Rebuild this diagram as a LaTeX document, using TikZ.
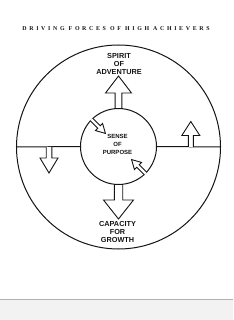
\documentclass[tikz,border=0pt]{standalone}
\usepackage{fontspec}
\usepackage{tikz}
\usepackage{xcolor}
\setmainfont{Liberation Serif}
\newfontfamily\labelfont{Liberation Sans}
\newfontfamily\titlefont[LetterSpace=45]{Liberation Serif}
\definecolor{inkblack}{RGB}{20,20,20}
\definecolor{pageedge}{RGB}{242,242,242}

% outlined block arrow: start point, angle, length, shaft half width, head half width, head length
\newcommand{\blockarrow}[6]{%
	\begin{scope}[shift={(#1)}, rotate=#2]
		\filldraw[arrowbody] (0pt,-#4pt) -- ({#3pt-#6pt},-#4pt) -- ({#3pt-#6pt},-#5pt)
			-- (#3pt,0pt) -- ({#3pt-#6pt},#5pt) -- ({#3pt-#6pt},#4pt) -- (0pt,#4pt);
	\end{scope}}

\begin{document}
\begin{tikzpicture}[
		x=1pt, y=-1pt,
		ring/.style={draw=inkblack, line width=1pt, circle, inner sep=0pt},
		arrowbody/.style={draw=inkblack, fill=white, line width=0.9pt, line join=miter},
		label/.style={font=\labelfont\bfseries\fontsize{7.3}{8}\selectfont, align=center, text=inkblack, inner sep=0pt},
		small label/.style={font=\labelfont\bfseries\fontsize{6}{8}\selectfont, align=center, text=inkblack, inner sep=0pt}
	]
		\useasboundingbox (0,0) rectangle (233,320);
		% scanned page edge
		\fill[pageedge] (0,299.5) rectangle (233,320);
		\draw[gray!60, line width=0.6pt] (0,299.5) -- (233,299.5);

		\node[font=\titlefont\bfseries\fontsize{5.9}{6}\selectfont, text=inkblack, inner sep=0pt] (title) at (116,28.5) {DRIVING FORCES OF HIGH ACHIEVERS};

		\node[ring, minimum size=204pt] (outer) at (118.5,147) {};
		\node[ring, minimum size=76pt] (inner) at (118.5,146.5) {};

		\draw[draw=inkblack, line width=1pt] (outer.west) -- (inner.west);
		\draw[draw=inkblack, line width=1pt] (inner.east) -- (outer.east);
		\coordinate (leftfoot) at (49,147);
		\coordinate (rightfoot) at (190.8,147);

		% big arrows
		\blockarrow{inner.north}{90}{32}{3.4}{13}{17}
		\blockarrow{inner.south}{-90}{34}{4.2}{15}{19}
		% small arrows on the line
		\blockarrow{rightfoot}{90}{25.5}{2.5}{9}{14}
		\blockarrow{leftfoot}{-90}{26}{2.8}{9}{15}
		% arrows into the inner circle
		\blockarrow{inner.135}{-45}{20}{1.8}{5}{9}
		\blockarrow{inner.-45}{135}{20}{1.8}{5}{9}

		\node[label] (spirit) at (119,63.5) {SPIRIT\\OF\\ADVENTURE};
		\node[small label] (sense) at (117.5,144.5) {SENSE\\OF\\PURPOSE};
		\node[label] (capacity) at (117.5,231.7) {CAPACITY\\FOR\\GROWTH};
	\end{tikzpicture}
\end{document}
